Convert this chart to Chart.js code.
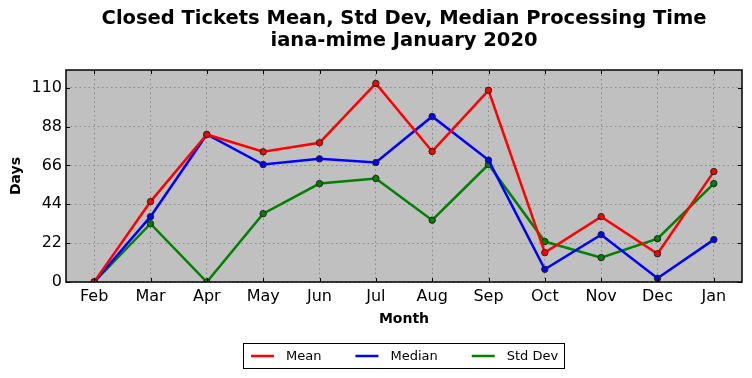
<!DOCTYPE html>
<html><head><meta charset="utf-8">
<script src="https://cdn.jsdelivr.net/npm/chart.js@4/dist/chart.umd.min.js"></script>
<style>html,body{margin:0;padding:0;background:#fff}#wrap{width:752px;height:378px}</style>
</head><body><div id="wrap"><canvas id="c" width="752" height="378"></canvas></div>
<script>
const months = ["Feb","Mar","Apr","May","Jun","Jul","Aug","Sep","Oct","Nov","Dec","Jan"];
const meanVals = [0,45.5,83.5,73.7,78.8,112.4,73.9,108.5,16.6,37.0,16.0,62.5];
const medianVals = [0,37.0,83.5,66.5,69.7,67.6,93.7,69.0,7.2,26.8,2.1,24.0];
const stdVals = [0,33.0,0,38.7,55.7,58.6,35.0,66.5,22.9,13.8,24.5,55.7];
const yTicks = [0,22,44,66,88,110];
const titleLines = ["Closed Tickets Mean, Std Dev, Median Processing Time","iana-mime January 2020"];

const F = "'DejaVu Sans', sans-serif";
const bgPlugin = {
  id:'bg',
  beforeDraw(chart){
    const {ctx, chartArea:a} = chart;
    ctx.save(); ctx.fillStyle='#c0c0c0'; ctx.fillRect(a.left,a.top,a.right-a.left,a.bottom-a.top); ctx.restore();
  },
  afterDatasetsDraw(chart){
    const {ctx, chartArea:a} = chart;
    ctx.save();
    ctx.strokeStyle='#000'; ctx.lineWidth=1;
    const xs = chart.scales.x, ys = chart.scales.y;
    ctx.beginPath();
    for(let i=0;i<months.length;i++){
      const px = Math.round(xs.getPixelForValue(i))+0.5;
      ctx.moveTo(px,a.bottom); ctx.lineTo(px,a.bottom-4);
      ctx.moveTo(px,a.top); ctx.lineTo(px,a.top+4);
    }
    yTicks.forEach(v=>{
      const py = Math.round(ys.getPixelForValue(v))+0.5;
      ctx.moveTo(a.left,py); ctx.lineTo(a.left+4,py);
      ctx.moveTo(a.right,py); ctx.lineTo(a.right-4,py);
    });
    ctx.stroke();
    ctx.strokeStyle='#000'; ctx.lineWidth=1.5; ctx.strokeRect(a.left,a.top,a.right-a.left,a.bottom-a.top);
    ctx.restore();
  },
  afterDraw(chart){
    const ctx = chart.ctx, a = chart.chartArea;
    ctx.save();
    ctx.fillStyle='#000'; ctx.textAlign='center'; ctx.textBaseline='middle';
    ctx.font = "bold 19.5px "+F;
    const cx = (a.left+a.right)/2;
    ctx.fillText(titleLines[0], cx, 19);
    ctx.fillText(titleLines[1], cx, 41);
    // legend
    ctx.font = "13px "+F; ctx.textAlign='left';
    const items = chart.data.datasets.map(d=>({text:d.label,color:d.borderColor}));
    const lineW = 23, gapT = 12, gapItem = 34, padL = 8, padR = 6;
    let total = padL + padR;
    items.forEach((it,i)=>{ it.w = ctx.measureText(it.text).width; total += lineW + gapT + it.w + (i<items.length-1?gapItem:0); });
    const boxL = Math.round(cx - total/2), boxT = 343, boxH = 25;
    ctx.strokeStyle='#000'; ctx.lineWidth=1;
    ctx.strokeRect(boxL+0.5, boxT+0.5, Math.round(total), boxH);
    let x = boxL + padL; const my = boxT + boxH/2 + 0.5;
    items.forEach(it=>{
      ctx.strokeStyle=it.color; ctx.lineWidth=2.5; ctx.beginPath(); ctx.moveTo(x,my); ctx.lineTo(x+lineW,my); ctx.stroke();
      x += lineW + gapT; ctx.fillStyle='#000'; ctx.fillText(it.text, x, my+1); x += it.w + gapItem;
    });
    ctx.restore();
  }
};
function ds(label,data,color){
  return {label,data,borderColor:color,backgroundColor:color,borderWidth:2.5,pointRadius:3.2,
    pointBorderColor:'#222',pointBorderWidth:1,pointBackgroundColor:color,tension:0,fill:false};
}
new Chart(document.getElementById('c'),{
  type:'line',
  data:{labels:months,datasets:[ds('Mean',meanVals,'#ff0000'),ds('Median',medianVals,'#0000ff'),ds('Std Dev',stdVals,'#008000')]},
  options:{
    responsive:false,animation:false,
    layout:{padding:{left:0,right:10,top:70,bottom:44}},
    plugins:{title:{display:false},legend:{display:false},tooltip:{enabled:false}},
    scales:{
      x:{offset:true,grid:{color:'#888',lineWidth:1,drawTicks:false,offset:false},border:{display:false,dash:[1.5,3]},
        ticks:{color:'#000',font:{family:F,size:16},padding:5},
        title:{display:true,text:'Month',color:'#000',font:{family:F,size:14,weight:'bold'},padding:{top:0,bottom:6}}},
      y:{min:0,max:120,grid:{color:'#888',lineWidth:1,drawTicks:false},border:{display:false,dash:[1.5,3]},
        afterBuildTicks(s){s.ticks=yTicks.map(v=>({value:v}));},
        afterFit(s){s.width=66;},
        ticks:{color:'#000',font:{family:F,size:16},padding:4},
        title:{display:true,text:'Days',color:'#000',font:{family:F,size:14,weight:'bold'},padding:{top:8,bottom:6}}}
    }
  },
  plugins:[bgPlugin]
});
</script></body></html>
